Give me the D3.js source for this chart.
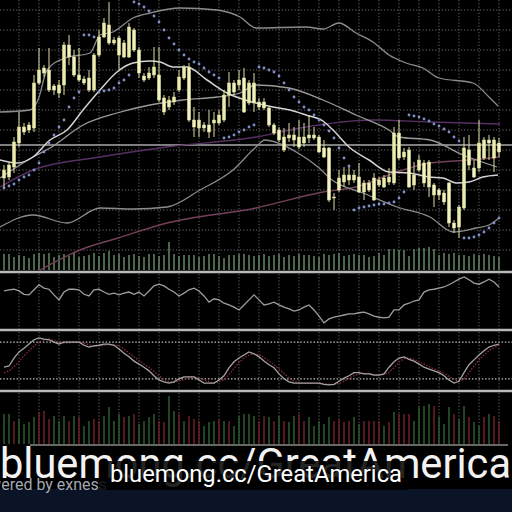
<!DOCTYPE html>
<html>
<head>
<meta charset="utf-8">
<script src="https://cdn.jsdelivr.net/npm/d3@7"></script>
<style>
  html, body { margin: 0; padding: 0; background: #000; overflow: hidden; }
</style>
</head>
<body>
<svg id="chart" width="512" height="512"></svg>
<script>
// price data, one bar per period
const open  = [92,105,103,127,143,145,142,187,202,200, 184,177,185,225,213,195,191,192,180,215, 233,245,227,232,213,213,240,220,194,192, 195,195,172,163,168,180,192,203,150,142, 145,145,147,147,150,175,187,185,192,167, 187,168,168,162,145,140,133,132,130,133, 127,132,135,133,122,122,72,80,88,95, 90,93,78,87,92,85,83,88,87,137, 113,120,85,100,107,83,85,80,77,87, 47,43,62,120,102,102,112,130,112,127];
const high  = [105,108,133,158,147,148,195,222,205,222, 186,190,228,235,220,222,194,200,217,240, 252,268,233,234,230,247,242,223,197,203, 223,223,175,174,178,200,205,207,163,158, 148,160,158,160,180,198,190,200,202,190, 197,172,172,163,147,143,142,147,143,150, 147,155,143,135,130,123,77,100,103,103, 100,107,90,90,97,93,95,102,143,150, 122,123,108,115,110,110,87,82,80,88, 50,65,133,135,110,150,133,135,133,132];
const low   = [83,90,97,123,135,137,138,185,193,178, 175,172,175,205,193,188,185,178,178,213, 232,225,225,200,212,212,218,192,188,190, 192,168,155,160,165,178,190,148,133,133, 138,132,133,145,148,163,175,180,157,165, 158,160,160,143,135,128,118,128,123,121, 123,127,130,117,112,68,60,78,83,85, 87,77,70,78,69,83,82,85,85,110, 110,82,80,98,83,73,63,70,65,43, 37,32,60,100,92,98,110,110,98,113];
const close = [100,93,128,143,138,140,187,200,197,180, 180,185,225,213,195,190,187,180,215,233, 247,227,230,215,227,243,220,197,190,197, 203,170,158,170,173,193,203,150,143,150, 142,138,150,155,175,187,178,190,158,187, 167,163,162,145,137,130,120,135,135,123, 133,135,132,118,113,70,73,92,95,90, 95,78,87,80,70,90,92,93,137,112, 118,83,95,110,87,108,75,75,68,47, 42,63,122,105,93,127,130,127,130,118];

// parabolic SAR
const sar = [82,84,86,90,93,95,100,107,118,127, 135,143,150,163,172,178,235,235,233,178, 179,180,182,187,190,195,268,266,263,259, 254,248,240,232,226,220,215,211,208,206, 202,198,195,192,132,133,135,138,140,143, 145,203,202,200,198,194,187,180,173,168, 163,160,155,150,145,139,132,122,112,104, 60,62,63,64,65,66,66,67,68,72, 78,155,154,153,151,149,146,144,141,138, 133,129,32,32,33,35,38,42,47,52];

// overlay lines as [bar index, price]
const upperBand = [[-0.8,158],[5.2,160],[6.8,170],[8.6,200],[12.2,212],[17.2,217],[19.2,235],[21.8,238],[25.8,252],[29.2,257],[35.2,262],[42.6,260],[47.2,253],[50.4,242],[60.4,243],[63.8,241],[67,247],[70.4,237],[73.8,228],[77,215],[80.4,207],[83.8,202],[87,192],[93.8,187],[97,173],[98.8,164]];
const fastMA = [[-0.8,110],[2.6,107],[5.8,113],[9.2,130],[12.6,140],[15.8,160],[19.2,180],[22.6,198],[25.8,207],[29.2,209],[31.2,208],[33.8,203],[36.6,203],[40.6,190],[44.6,177],[50.4,167],[53.8,163],[57.2,160],[60.4,155],[63.8,149],[65.8,140],[69,123],[73,110],[77,98],[81,97],[85,93],[87.8,92],[90.4,87],[93,88],[95.8,93],[98.8,95]];
const midMA = [[-0.8,92],[5.8,113],[9.2,122],[15.8,145],[22.6,157],[29.2,165],[35.8,170],[42.6,173],[47.2,177],[50.4,185],[57,182],[63.8,170],[70.4,155],[77,140],[79,133],[85.2,130],[91.8,115],[98.6,103]];
const lowerBand = [[-0.8,43],[5.8,55],[12.6,47],[19.2,62],[25.8,61],[32.6,63],[39.2,80],[45.8,100],[50.4,123],[52.2,130],[54.2,128],[58.8,117],[62.8,103],[65.6,90],[71.8,77],[78.6,63],[85.2,53],[89.8,38],[94.4,42],[97,45],[99,52]];
const slowMA = [[7.2,0],[15.2,20],[22.8,32],[32.6,47],[50.4,62],[63.8,78],[70.4,83],[78.6,98],[85.2,107],[93.2,110],[99.2,113]];
const slowerMA = [[-0.8,83],[5.8,100],[19.2,113],[32.6,123],[50.4,133],[59.2,142],[73.8,150],[85.2,148],[99.2,146]];
const levelPrice = 125;

const volume = [16,16,13,15,14,12,16,17,16,17, 13,15,16,14,17,13,14,15,17,14, 17,19,15,16,13,15,16,14,13,16, 16,14,15,28,16,14,15,15,15,13, 14,16,16,14,12,15,15,16,16,15, 14,15,16,14,15,16,13,15,14,16, 15,15,14,13,16,15,16,17,14,15, 16,15,15,13,14,17,15,21,21,20, 20,14,21,22,22,23,21,15,17,16, 17,15,15,14,16,15,16,15,14,13];

const rsi = [68,70,71,68,62,61,70,79,73,71, 61,52,66,71,71,70,62,59,70,71, 66,62,64,61,64,66,62,66,59,68, 77,80,77,71,66,59,64,70,73,68, 59,48,54,52,46,43,39,34,43,52, 61,52,43,45,48,43,39,36,32,34, 39,43,34,23,11,18,21,23,25,27, 27,29,30,27,23,21,20,21,34,34, 43,46,50,52,66,70,71,73,75,79, 84,89,93,88,82,80,84,89,84,75];

const stochK = [39,41,54,64,70,77,84,87,85,84, 80,77,80,80,80,80,75,72,74,75, 77,77,75,69,62,56,49,44,39,33, 25,18,15,13,15,20,23,23,23,18, 13,13,13,18,25,38,48,54,59,64, 61,56,49,43,38,28,20,15,13,13, 13,13,13,13,11,10,11,16,21,25, 30,30,28,28,26,26,28,39,48,54, 56,52,49,44,39,36,33,30,25,18, 13,16,30,43,51,59,66,72,75,77];
const stochD = [30,33,40,48,58,66,74,80,84,85, 83,80,79,79,80,80,78,76,74,74, 75,76,76,74,69,62,56,50,44,39, 32,25,19,15,14,16,19,22,23,21, 18,15,13,15,19,27,37,47,54,59, 61,60,55,49,43,36,29,21,16,14, 13,13,13,13,12,11,11,12,16,21, 25,28,29,29,27,27,27,31,38,47, 53,54,52,48,44,40,36,33,29,24, 19,16,20,30,41,51,59,66,71,75];
const stochLevels = [80, 20];

const tickVol = [30,30,23,25,20,22,27,32,33,25, 28,23,28,23,28,27,18,23,25,23, 28,37,23,30,27,28,30,20,23,27, 30,23,22,48,33,30,23,28,25,23, 18,22,23,25,23,23,18,28,30,30, 28,23,28,27,23,28,23,22,28,30, 23,27,18,23,20,27,23,25,22,23, 27,20,23,23,23,23,18,22,32,30, 30,30,23,37,38,40,38,27,20,37, 30,25,38,27,22,18,27,30,28,23];
const tickDir = "ggrggggrrrgggrgrggrrggggrgrggggrrggrgrrrgggrgrgggggrrgrgrggrrgggggrrrrggrrrrgrgrrrggggrgggrggrggrgrr";

const watermark = "bluemong.cc/GreatAmerica";
const footer = "Powered by exness";

const svg = d3.select('#chart');
const W = 512;
svg.append('rect').attr('width', W).attr('height', 512).attr('fill', '#000');

const idx = d3.range(open.length);
const x = d3.scaleLinear().domain([0, 99]).range([4, 499]);
const y = d3.scaleLinear().domain([0, 270]).range([270, 0]);
const yVol = d3.scaleLinear().domain([0, 100]).range([270, 170]);
const yRsi = d3.scaleLinear().domain([0, 100]).range([329, 273]);
const ySto = d3.scaleLinear().domain([0, 100]).range([391, 330]);
const yTick = d3.scaleLinear().domain([0, 50]).range([444, 394]);

const gridIdx = d3.range(3, 100, 4);
const dotted = '1.2,2';

// vertical grid per panel
[[0, 270], [274, 329], [332, 390], [393, 444]].forEach(([a, b]) => {
    svg.append('g').selectAll('line').data(gridIdx).enter().append('line')
        .attr('x1', d => x(d)).attr('x2', d => x(d))
        .attr('y1', a).attr('y2', b)
        .attr('stroke', '#6a6a6a').attr('stroke-width', 1)
        .attr('stroke-dasharray', dotted);
});

// horizontal grid, main panel
svg.append('g').selectAll('line').data(d3.range(20, 270, 20)).enter().append('line')
    .attr('x1', 0).attr('x2', W)
    .attr('y1', d => y(d)).attr('y2', d => y(d))
    .attr('stroke', '#6a6a6a').attr('stroke-width', 1)
    .attr('stroke-dasharray', dotted);

// stochastic levels
svg.append('g').selectAll('line').data(stochLevels).enter().append('line')
    .attr('x1', 0).attr('x2', W)
    .attr('y1', d => ySto(d)).attr('y2', d => ySto(d))
    .attr('stroke', '#bdbdbd').attr('stroke-width', 1.2)
    .attr('stroke-dasharray', '1.5,1.8');

// volume in main panel
svg.append('g').selectAll('line').data(idx).enter().append('line')
    .attr('x1', i => x(i)).attr('x2', i => x(i))
    .attr('y1', yVol(0)).attr('y2', i => yVol(volume[i]))
    .attr('stroke', '#668866').attr('stroke-width', 1.5);

// price level line
svg.append('line')
    .attr('x1', 0).attr('x2', W)
    .attr('y1', y(levelPrice)).attr('y2', y(levelPrice))
    .attr('stroke', '#a9a9a9').attr('stroke-width', 1.4);

const line = d3.line().x(d => x(d[0])).y(d => y(d[1])).curve(d3.curveMonotoneX);
const overlays = [
    [slowerMA, '#563063', 1.4],
    [slowMA, '#74405a', 1.4],
    [lowerBand, '#8c8c8c', 1.3],
    [upperBand, '#8c8c8c', 1.3],
    [midMA, '#9a9a9a', 1.3],
    [fastMA, '#d4d4d4', 1.5]
];
overlays.forEach(([pts, color, w]) => {
    svg.append('path').datum(pts)
        .attr('d', line)
        .attr('fill', 'none')
        .attr('stroke', color)
        .attr('stroke-width', w);
});

// SAR dots
svg.append('g').selectAll('circle').data(idx).enter().append('circle')
    .attr('cx', i => x(i)).attr('cy', i => y(sar[i]))
    .attr('r', 1.4).attr('fill', '#7f8fc8');

// candles
const candles = svg.append('g').selectAll('g').data(idx).enter().append('g');
candles.append('line')
    .attr('x1', i => x(i)).attr('x2', i => x(i))
    .attr('y1', i => y(high[i])).attr('y2', i => y(low[i]))
    .attr('stroke', '#dcdca4').attr('stroke-width', 1);
candles.append('rect')
    .attr('x', i => x(i) - 1.6)
    .attr('y', i => y(Math.max(open[i], close[i])))
    .attr('width', 3.2)
    .attr('height', i => Math.max(1, Math.abs(y(open[i]) - y(close[i]))))
    .attr('fill', i => close[i] >= open[i] ? '#ebebb0' : '#f3f3c2')
    .attr('stroke', '#d8d894').attr('stroke-width', 0.5);

// RSI
svg.append('path').datum(idx)
    .attr('d', d3.line().x(i => x(i)).y(i => yRsi(rsi[i])))
    .attr('fill', 'none').attr('stroke', '#9aa09a').attr('stroke-width', 1.3);

// stochastic
svg.append('path').datum(idx)
    .attr('d', d3.line().x(i => x(i)).y(i => ySto(stochD[i])))
    .attr('fill', 'none').attr('stroke', '#8a2c36').attr('stroke-width', 1.3)
    .attr('stroke-dasharray', '1.5,1.5');
svg.append('path').datum(idx)
    .attr('d', d3.line().x(i => x(i)).y(i => ySto(stochK[i])))
    .attr('fill', 'none').attr('stroke', '#a4a4a4').attr('stroke-width', 1.3);

// tick volume histogram
svg.append('g').selectAll('line').data(idx).enter().append('line')
    .attr('x1', i => x(i)).attr('x2', i => x(i))
    .attr('y1', yTick(0)).attr('y2', i => yTick(tickVol[i]))
    .attr('stroke', i => tickDir[i] === 'g' ? '#2a5c2e' : '#6e2024')
    .attr('stroke-width', 1.5);

// panel separators
[[272, 2.6], [330, 2.6], [391, 2.6]].forEach(([yy, w]) => {
    svg.append('line').attr('x1', 0).attr('x2', W).attr('y1', yy).attr('y2', yy)
        .attr('stroke', '#b9b9b9').attr('stroke-width', w);
});
svg.append('line').attr('x1', 30).attr('x2', 508).attr('y1', 445).attr('y2', 445)
    .attr('stroke', '#d0d0d0').attr('stroke-width', 1.2);

// watermark area
svg.append('rect').attr('x', 0).attr('y', 489).attr('width', W).attr('height', 23)
    .attr('fill', '#0b1427');
svg.append('text').attr('x', -30).attr('y', 490)
    .attr('font-family', 'Roboto, sans-serif').attr('font-size', 16)
    .attr('fill', '#a2a8b6').text(footer);
svg.append('text').attr('x', 0).attr('y', 478)
    .attr('font-family', 'Roboto, sans-serif').attr('font-size', 43)
    .attr('textLength', 511).attr('lengthAdjust', 'spacingAndGlyphs')
    .attr('fill', '#f2f2f2').text(watermark);
svg.append('rect').attr('x', 100).attr('y', 461).attr('width', 308).attr('height', 29)
    .attr('fill', '#000').attr('opacity', 0.85);
svg.append('text').attr('x', 110).attr('y', 482)
    .attr('font-family', 'Roboto, sans-serif').attr('font-size', 24)
    .attr('textLength', 292).attr('lengthAdjust', 'spacingAndGlyphs')
    .attr('fill', '#ffffff').attr('stroke', '#000').attr('stroke-width', 1)
    .attr('paint-order', 'stroke').text(watermark);
</script>
</body>
</html>
